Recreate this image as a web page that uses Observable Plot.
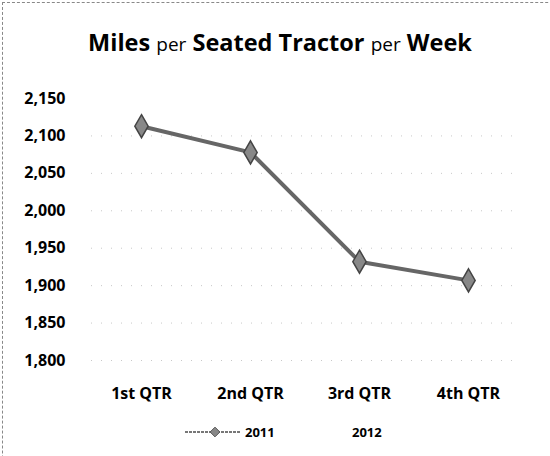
<!DOCTYPE html>
<html>
<head>
<meta charset="utf-8">
<script src="https://cdn.jsdelivr.net/npm/d3@7"></script>
<script src="https://cdn.jsdelivr.net/npm/@observablehq/plot@0.6"></script>
<style>
  html, body { margin: 0; padding: 0; background: #fff; }
  #chart { position: relative; width: 550px; height: 456px; overflow: hidden; font-family: "Open Sans", Lato, sans-serif; }
  #frame { position: absolute; left: 2px; top: 2px; width: 600px; height: 600px; border-top: 1px dashed #888; border-left: 1px dashed #888; }
  #title { position: absolute; left: 0; top: 0; width: 560px; height: 70px; text-align: center; line-height: 84px; font-size: 23.5px; color: #000; white-space: nowrap; }
  #title b { font-weight: 700; }
  #title span { font-weight: 400; font-size: 19px; }
  #plot { position: absolute; left: 0; top: 70px; }
  #legend { position: absolute; left: 0; top: 422px; width: 550px; height: 22px; font-size: 13px; font-weight: 700; }
  #legend .item { position: absolute; top: 1px; display: flex; align-items: center; }
</style>
</head>
<body>
<div id="chart">
  <div id="frame"></div>
  <div id="title"><b>Miles</b> <span>per</span> <b>Seated Tractor</b> <span>per</span> <b>Week</b></div>
  <div id="plot"></div>
  <div id="legend"></div>
</div>
<script>
const quarters = ["1st QTR", "2nd QTR", "3rd QTR", "4th QTR"];
const values2011 = [2113, 2078, 1932, 1907];
const series = ["2011", "2012"];
const yTicks = [1800, 1850, 1900, 1950, 2000, 2050, 2100, 2150];

const data = quarters.map((q, i) => ({quarter: q, value: values2011[i]}));

const plot = Plot.plot({
  width: 550,
  height: 335,
  marginLeft: 91,
  marginRight: 32,
  marginTop: 28,
  marginBottom: 45,
  style: {fontFamily: "'Open Sans', Lato, sans-serif", fontSize: "16px", fontWeight: 700, color: "#000", background: "transparent"},
  x: {type: "point", domain: quarters, padding: 0, inset: 50, label: null},
  y: {domain: [1800, 2150], label: null},
  marks: [
    Plot.ruleY(yTicks.slice(0, -1), {stroke: "#c8c8c8", strokeWidth: 1, strokeDasharray: "1,9"}),
    Plot.axisY({ticks: yTicks, tickFormat: d3.format(","), tickSize: 0, tickPadding: 26, label: null, fontSize: 16, fontWeight: 700}),
    Plot.axisX({tickSize: 0, tickPadding: 27, label: null, fontSize: 16, fontWeight: 700}),
    Plot.line(data, {x: "quarter", y: "value", stroke: "#666", strokeWidth: 4}),
    Plot.dot(data, {x: "quarter", y: "value", symbol: "diamond", r: 7, fill: "#888", stroke: "#444", strokeWidth: 1.5})
  ]
});
document.getElementById("plot").appendChild(plot);

// Legend
const legend = document.getElementById("legend");
const lefts = [185, 352];
series.forEach((s, i) => {
  const item = document.createElement("div");
  item.className = "item";
  item.style.left = lefts[i] + "px";
  if (i === 0) {
    const sw = d3.create("svg").attr("width", 60).attr("height", 16);
    sw.append("line").attr("x1", 0).attr("x2", 56).attr("y1", 8).attr("y2", 8).attr("stroke", "#777").attr("stroke-width", 2).attr("stroke-dasharray", "3,1");
    sw.append("path").attr("d", d3.symbol(d3.symbolDiamond2, 60)()).attr("transform", "translate(30,8)").attr("fill", "#888").attr("stroke", "#555");
    item.appendChild(sw.node());
  }
  const t = document.createElement("span");
  t.textContent = s;
  item.appendChild(t);
  legend.appendChild(item);
});
</script>
</body>
</html>
